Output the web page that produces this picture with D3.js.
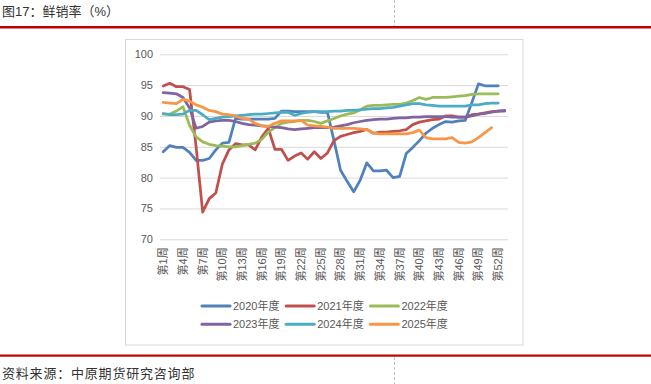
<!DOCTYPE html>
<html>
<head>
<meta charset="utf-8">
<script src="https://cdn.jsdelivr.net/npm/d3@7"></script>
<style>
  body { margin: 0; background: #fff; }
  text { font-family: "Liberation Sans", "Noto Sans CJK SC", sans-serif; }
</style>
</head>
<body>
<svg></svg>
<script>
// weeks 1..53 on the category axis, labels every 3 weeks
const weeks = d3.range(1, 54);
const tickWeeks = [1, 4, 7, 10, 13, 16, 19, 22, 25, 28, 31, 34, 37, 40, 43, 46, 49, 52];
const yTicks = [70, 75, 80, 85, 90, 95, 100];
const seriesNames = ["2020年度", "2021年度", "2022年度", "2023年度", "2024年度", "2025年度"];
const seriesColors = ["#4F81BD", "#C0504D", "#9BBB59", "#8064A2", "#4BACC6", "#F79646"];

const y2020 = [84.2,85.2,84.9,84.9,84.1,82.8,82.8,83.1,84.5,85.6,
  85.7,89.6,89.5,89.5,89.5,89.5,89.5,89.6,90.8,90.8,
  90.7,90.7,90.7,90.7,90.6,90.6,86.0,81.2,79.4,77.7,
  79.6,82.4,81.1,81.1,81.2,80.0,80.2,83.9,84.9,86.0,
  87.2,88.0,88.6,89.1,89.0,89.2,89.3,92.2,95.2,94.9,94.9,94.9];
const y2021 = [94.85,95.3,94.75,94.75,94.3,85.0,74.4,76.6,77.5,82.2,
  84.5,85.5,85.3,85.3,84.5,86.6,88.0,84.6,84.6,82.8,
  83.5,84.0,83.0,84.2,83.1,84.0,86.0,86.7,87.0,87.3,
  87.5,87.8,87.2,87.4,87.4,87.5,87.6,87.8,88.6,89.0,
  89.2,89.4,89.5,90.0,90.0,89.8,89.8,90.2,90.3,90.5,90.7,90.8,90.8];
const y2022 = [90.3,90.3,90.8,91.5,88.5,86.6,85.8,85.4,85.2,85.1,
  85.0,85.0,85.2,85.4,85.6,86.2,87.4,88.1,88.8,89.0,
  89.1,89.3,89.3,89.1,88.8,89.2,89.6,90.0,90.3,90.5,
  91.0,91.6,91.7,91.7,91.8,91.9,91.9,92.1,92.5,93.0,
  92.7,93.0,93.0,93.0,93.1,93.2,93.3,93.5,93.6,93.6,93.6,93.6];
const y2023 = [93.8,93.7,93.6,93.0,91.3,88.0,88.3,89.0,89.2,89.3,
  89.3,89.1,88.8,88.6,88.5,88.4,88.3,88.2,88.1,87.9,
  87.8,87.9,88.0,88.1,88.1,88.1,88.2,88.4,88.6,88.9,
  89.1,89.3,89.4,89.5,89.5,89.6,89.7,89.7,89.8,89.8,
  89.9,89.9,89.9,89.9,89.8,89.8,89.8,90.0,90.3,90.4,90.6,90.8,90.9];
const y2024 = [90.4,90.2,90.2,90.3,90.9,90.9,90.2,89.4,89.6,89.8,
  89.9,90.0,90.1,90.2,90.3,90.3,90.4,90.5,90.6,90.6,
  90.1,90.4,90.6,90.7,90.7,90.7,90.8,90.8,90.9,90.9,
  91.0,91.1,91.2,91.2,91.3,91.4,91.6,91.8,92.0,92.0,
  91.8,91.7,91.6,91.6,91.6,91.6,91.6,91.8,91.8,92.0,92.1,92.1];
const y2025 = [92.2,92.1,92.0,92.7,92.4,91.8,91.4,90.9,90.7,90.3,
  90.2,90.0,89.6,89.5,88.8,88.4,88.3,88.8,89.2,89.2,
  89.2,89.3,88.5,88.4,88.3,88.2,88.0,88.0,88.0,88.0,
  87.9,87.8,87.2,87.1,87.1,87.1,87.1,87.1,87.3,87.7,
  86.5,86.3,86.3,86.3,86.5,85.7,85.6,85.8,86.5,87.3,88.1];

const seriesValues = [y2020, y2021, y2022, y2023, y2024, y2025];

function draw() {
  const svgWidth = 651, svgHeight = 384;
  const svg = d3.select("svg")
    .attr("width", svgWidth)
    .attr("height", svgHeight);

  // header / footer of the report page
  svg.append("text")
    .attr("x", 2).attr("y", 15.5)
    .attr("font-size", 13)
    .attr("fill", "#333")
    .attr("font-family", "'Noto Sans CJK SC', sans-serif")
    .text("图17：鲜销率（%）");
  svg.append("line")
    .attr("x1", 394.5).attr("x2", 394.5).attr("y1", 0).attr("y2", 26)
    .attr("stroke", "#bfbfbf").attr("stroke-dasharray", "3,2");
  svg.append("rect")
    .attr("x", 0).attr("y", 26).attr("width", svgWidth).attr("height", 2.5)
    .attr("fill", "#C00000");

  svg.append("rect")
    .attr("x", 0).attr("y", 354.5).attr("width", svgWidth).attr("height", 2.2)
    .attr("fill", "#C00000");
  svg.append("line")
    .attr("x1", 394.5).attr("x2", 394.5).attr("y1", 357).attr("y2", 384)
    .attr("stroke", "#bfbfbf").attr("stroke-dasharray", "3,2");
  svg.append("text")
    .attr("x", 2).attr("y", 377.5)
    .attr("font-size", 13)
    .attr("letter-spacing", 0.8)
    .attr("fill", "#333")
    .attr("font-family", "'Noto Sans CJK SC', sans-serif")
    .text("资料来源：中原期货研究咨询部");

  // chart frame
  svg.append("rect")
    .attr("x", 125.5).attr("y", 39.5).attr("width", 397.5).attr("height", 305.5)
    .attr("fill", "none").attr("stroke", "#d9d9d9");

  const xScale = d3.scaleBand()
    .domain(weeks)
    .range([160, 508]);
  const yScale = d3.scaleLinear()
    .domain([70, 100])
    .range([239.3, 54.3]);
  const xPos = w => xScale(w) + xScale.bandwidth() / 2;

  // y axis with gridlines
  const yAxis = d3.axisLeft(yScale)
    .tickValues(yTicks)
    .tickSize(-(508 - 160))
    .tickPadding(7);
  const yAxisG = svg.append("g")
    .attr("transform", "translate(160,0)")
    .call(yAxis);
  yAxisG.select(".domain").remove();
  yAxisG.selectAll(".tick line")
    .attr("stroke", "#d9d9d9");
  yAxisG.selectAll(".tick text")
    .attr("fill", "#595959")
    .attr("font-size", 11)
    .attr("font-family", "'Liberation Sans', sans-serif");

  // x axis, labels rotated
  const xAxis = d3.axisBottom(xScale)
    .tickValues(tickWeeks)
    .tickSize(0)
    .tickFormat(w => `第${w}周`);
  const xAxisG = svg.append("g")
    .attr("transform", `translate(0,${yScale(70)})`)
    .call(xAxis);
  xAxisG.select(".domain").remove();
  xAxisG.selectAll(".tick text")
    .attr("transform", "rotate(-90)")
    .attr("text-anchor", "end")
    .attr("x", -8)
    .attr("y", 0)
    .attr("dy", "0.35em")
    .attr("fill", "#595959")
    .attr("font-size", 11);

  const lineGenerator = d3.line()
    .x((d, i) => xPos(weeks[i]))
    .y(d => yScale(d));

  seriesValues.forEach((vals, k) => {
    svg.append("path")
      .attr("d", lineGenerator(vals))
      .attr("fill", "none")
      .attr("stroke", seriesColors[k])
      .attr("stroke-width", 2.75)
      .attr("stroke-linejoin", "round")
      .attr("stroke-linecap", "round");
  });

  // legend, 3 per row
  const legend = svg.append("g");
  seriesNames.forEach((name, k) => {
    const lx = 202 + (k % 3) * 84.2;
    const ly = 306 + Math.floor(k / 3) * 18.3;
    legend.append("line")
      .attr("x1", lx).attr("x2", lx + 28)
      .attr("y1", ly).attr("y2", ly)
      .attr("stroke", seriesColors[k])
      .attr("stroke-width", 3)
      .attr("stroke-linecap", "round");
    legend.append("text")
      .attr("x", lx + 31).attr("y", ly)
      .attr("dy", "0.35em")
      .attr("font-size", 11)
      .attr("fill", "#595959")
      .text(name);
  });
}

draw();
</script>
</body>
</html>
